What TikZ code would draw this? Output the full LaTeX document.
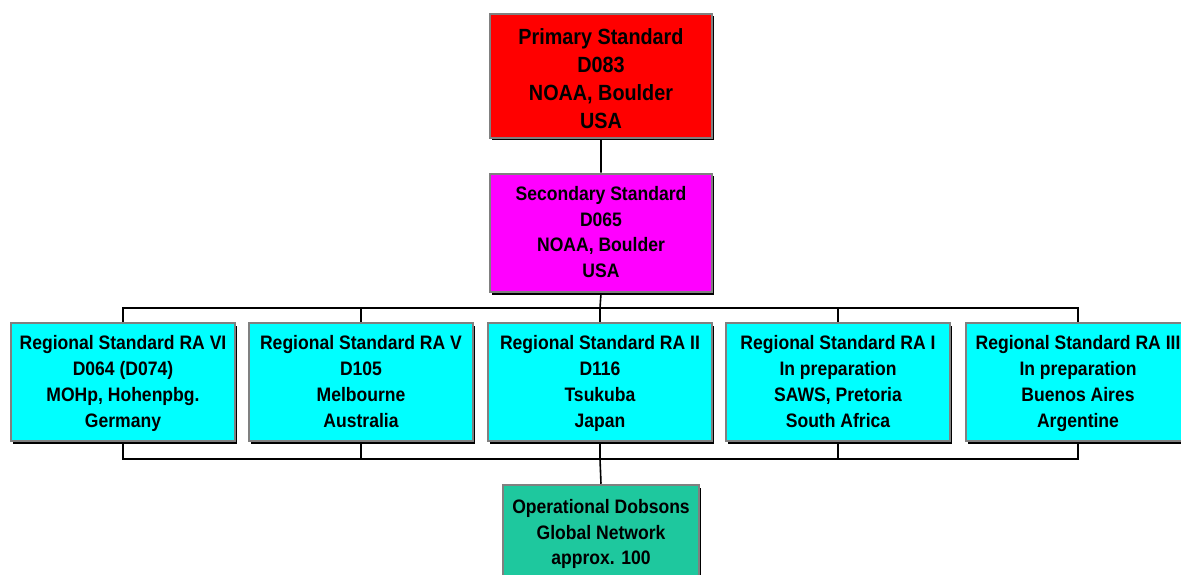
\documentclass[tikz,border=0pt]{standalone}
\usepackage{fontspec}
\setmainfont{Liberation Sans}[FakeStretch=0.9]
\usetikzlibrary{shadows}
\definecolor{stdred}{RGB}{255,0,0}
\definecolor{stdmagenta}{RGB}{255,0,255}
\definecolor{stdcyan}{RGB}{0,255,255}
\definecolor{opgreen}{RGB}{30,200,158}
\begin{document}
\begin{tikzpicture}[x=1pt, y=-1pt]
    \tikzstyle{std_box}      = [shape = rectangle, draw = gray, line width = 2.5pt,
                                drop shadow = {shadow xshift = 2pt, shadow yshift = -2.5pt, fill = black, opacity = 1}]
    \tikzstyle{std_primary}  = [std_box, fill = stdred,     minimum width = 222pt, minimum height = 124pt]
    \tikzstyle{std_second}   = [std_box, fill = stdmagenta, minimum width = 222pt, minimum height = 118pt]
    \tikzstyle{std_regional} = [std_box, fill = stdcyan,    minimum width = 224pt, minimum height = 118pt]
    \tikzstyle{std_oper}     = [std_box, fill = opgreen,    minimum width = 196pt, minimum height = 100pt]

    \tikzstyle{txt_primary}  = [align = center, font = \bfseries\fontsize{22}{28}\selectfont,     yshift = -3pt]
    \tikzstyle{txt_second}   = [align = center, font = \bfseries\fontsize{19.5}{25.7}\selectfont, yshift = 1pt]
    \tikzstyle{txt_regional} = [align = center, font = \bfseries\fontsize{19.5}{26}\selectfont,   yshift = -1pt]
    \tikzstyle{txt_oper}     = [align = center, font = \bfseries\fontsize{19.5}{25.5}\selectfont, yshift = 1pt]

    \useasboundingbox (0, 0) rectangle (1181, 575);

    \node[std_primary, label = {[txt_primary]center:{Primary Standard\\D083\\NOAA, Boulder\\USA}}]
      at (601,  76) (prim) {};
    \node[std_second, label = {[txt_second]center:{Secondary Standard\\D065\\NOAA, Boulder\\USA}}]
      at (601, 233) (sec) {};

    \node[std_regional, label = {[txt_regional]center:{Regional Standard RA VI\\D064 (D074)\\MOHp, Hohenpbg.\\Germany}}]
      at ( 123, 382) (ra6) {};
    \node[std_regional, label = {[txt_regional]center:{Regional Standard RA V\\D105\\Melbourne\\Australia\vphantom{g}}}]
      at ( 361, 382) (ra5) {};
    \node[std_regional, label = {[txt_regional]center:{Regional Standard RA II\\D116\\Tsukuba\\Japan}}]
      at ( 600, 382) (ra2) {};
    \node[std_regional, label = {[txt_regional]center:{Regional Standard RA I\\In preparation\\SAWS, Pretoria\\South Africa\vphantom{g}}}]
      at ( 838, 382) (ra1) {};
    \node[std_regional, label = {[txt_regional]center:{Regional Standard RA III\\In preparation\\Buenos Aires\\Argentine}}]
      at (1078, 382) (ra3) {};

    \node[std_oper, label = {[txt_oper]center:{Operational Dobsons\\Global Network\\approx. 100}}]
      at (601, 535) (oper) {};

    \coordinate (bus_top) at (600, 308);
    \coordinate (bus_bot) at (600, 459);

    \draw[line width = 1.6pt]
      (prim) -- (sec)
      (sec.south) -- (bus_top)
      (ra6.north) |- (bus_top) -| (ra3.north)
      (ra6.south) |- (bus_bot) -| (ra3.south)
      (bus_bot) -- (oper.north)
    ;
    \foreach \n in {ra5, ra2, ra1} {
      \draw[line width = 1.6pt] (\n.north) -- (\n.north |- bus_top);
      \draw[line width = 1.6pt] (\n.south) -- (\n.south |- bus_bot);
    }
  \end{tikzpicture}
\end{document}
